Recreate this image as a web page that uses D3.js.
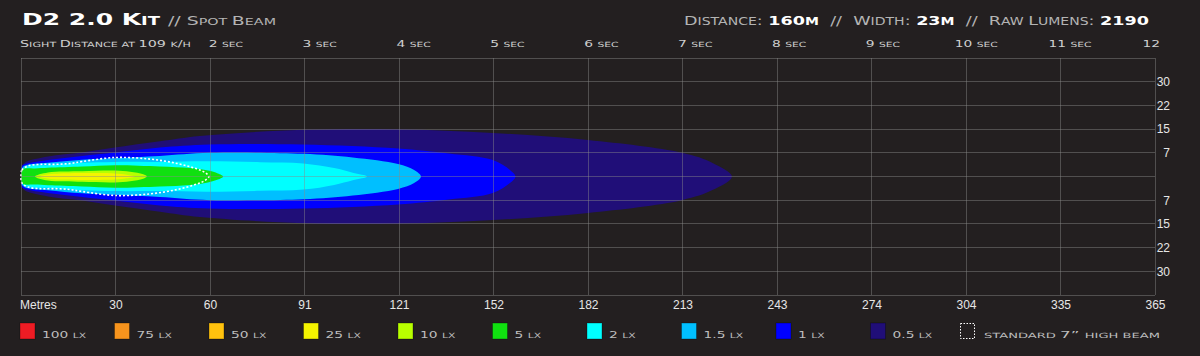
<!DOCTYPE html>
<html>
<head>
<meta charset="utf-8">
<script src="https://cdn.jsdelivr.net/npm/d3@7"></script>
<style>
  body { margin: 0; background: #231f20; }
  svg { display: block; }
  .caps { font-family: "DejaVu Sans", sans-serif; }
  .narrow { font-family: "Liberation Sans Narrow", "Arial Narrow", sans-serif; font-stretch: condensed; }
</style>
</head>
<body>
<script>
// ---- data ----
var luxLabels = ["100 lx", "75 lx", "50 lx", "25 lx", "10 lx", "5 lx", "2 lx", "1.5 lx", "1 lx", "0.5 lx"];
var luxColors = ["#ee1c24", "#f7941d", "#ffc20e", "#f4f400", "#b8ff00", "#10e010", "#00ffff", "#00bfff", "#0000ff", "#200e78"];

var distTicks = [30.48, 60.96, 91.44, 121.92, 152.4, 182.88, 213.36, 243.84, 274.32, 304.8, 335.28, 365.76];
var distLabels = ["30", "60", "91", "121", "152", "182", "213", "243", "274", "304", "335", "365"];
var widthTicks = [-30.48, -22.86, -15.24, -7.62, 7.62, 15.24, 22.86, 30.48];
var widthLabels = ["30", "22", "15", "7", "7", "15", "22", "30"];
var seconds = [2, 3, 4, 5, 6, 7, 8, 9, 10, 11, 12];
var secLabels = ["2 sec", "3 sec", "4 sec", "5 sec", "6 sec", "7 sec", "8 sec", "9 sec", "10 sec", "11 sec", "12"];
var speedKmh = 109;

// isolux contours: [distance m, half width m]
var lux05 = [[0,0],[0.3,3.2],[1.3,4.5],[8.7,6.4],[19.7,7.7],[30.3,9.3],[44.8,11.3],[57.7,13.0],[91,15.0],[121.6,15.2],[152.2,14.0],[182.9,11.7],[213.2,7.6],[223.2,4.3],[229.3,0]];
var lux1 = [[0,0],[0.3,3.4],[1.3,4.0],[8.7,5.3],[19.7,6.6],[30.3,7.7],[44.8,9.3],[60.6,10.3],[91,10.3],[121.6,9.0],[138,7.4],[152.2,5.3],[157.7,2.1],[159.5,0]];
var lux15 = [[0,0],[0.3,2.6],[1.3,3.5],[8.7,4.4],[19.7,5.4],[30.3,5.9],[44.8,6.6],[61,7.6],[91,7.3],[107,6.1],[121.6,4.0],[126.8,2.1],[129,0]];
var lux2 = [[0,0],[0.3,2.2],[1.3,3.0],[4.5,3.6],[8.7,3.6],[19.7,4.4],[30.3,4.7],[44.8,4.7],[60.3,4.9],[77.1,4.6],[91,4.2],[101,2.7],[107,1.2],[111.6,0]];
var lux5 = [[0,0],[0.1,1.6],[0.6,2.4],[4.5,2.6],[8.7,2.8],[19.7,3.2],[30.3,3.6],[44.8,3.2],[54.5,2.7],[60.3,1.9],[63.5,1.0],[65.2,0]];
var lux10 = [[4.5,0],[8.7,1.3],[19.7,1.7],[30.3,1.9],[35.2,1.5],[39.4,0.7],[40.6,0]];
var lux25 = [[6.1,0],[9,0.7],[12.6,0.95],[22.3,1.1],[30.3,1.0],[34,0.6],[36.8,0]];
var highBeam = [[0,0],[0.3,2.1],[2.3,3.4],[6.1,3.9],[11,3.9],[15.8,4.2],[19.7,4.8],[30.3,6.1],[41.6,5.6],[50.3,4.2],[56.8,2.4],[59.3,1.3],[60.6,0]];

var beams = [
  {lux: "0.5 lx", pts: lux05},
  {lux: "1 lx", pts: lux1},
  {lux: "1.5 lx", pts: lux15},
  {lux: "2 lx", pts: lux2},
  {lux: "5 lx", pts: lux5},
  {lux: "10 lx", pts: lux10},
  {lux: "25 lx", pts: lux25}
];

// ---- setup ----
var W = 1200, H = 356;
var svg = d3.select("body").append("svg").attr("width", W).attr("height", H);

var x = d3.scaleLinear().domain([0, 365.76]).range([21, 1155]);
var y = d3.scaleLinear().domain([-38.1, 38.1]).range([295, 58]);
var color = d3.scaleOrdinal().domain(luxLabels).range(luxColors);

function outline(pts) {
  var top = pts.map(function(p){ return [x(p[0]), y(p[1])]; });
  var bot = pts.slice(1, -1).reverse().map(function(p){ return [x(p[0]), y(-p[1])]; });
  return d3.line().curve(d3.curveCatmullRomClosed.alpha(0.5))(top.concat(bot));
}

// fake small caps: lowercase runs become smaller capitals
function smallCaps(parent, str, size, ratio) {
  var runs = [], cur = null;
  str.split("").forEach(function(c){
    var low = c !== c.toUpperCase() || (c === " " && cur && cur.low);
    if (!cur || cur.low !== low) { cur = {low: low, s: ""}; runs.push(cur); }
    cur.s += c;
  });
  runs.forEach(function(r){
    parent.append("tspan").attr("font-size", r.low ? size * ratio : size)
      .attr("xml:space", "preserve").text(r.s.toUpperCase());
  });
  return parent;
}
function stretch(t, k) {
  t.each(function(){
    var w = this.getComputedTextLength();
    d3.select(this).attr("textLength", w * k).attr("lengthAdjust", "spacingAndGlyphs");
  });
}

// beam layers
svg.append("g").selectAll("path")
  .data(beams)
  .join("path")
  .attr("d", function(d){ return outline(d.pts); })
  .attr("fill", function(d){ return color(d.lux); });

svg.append("path")
  .attr("d", outline(highBeam))
  .attr("fill", "none")
  .attr("stroke", "#fff")
  .attr("stroke-width", 1.6)
  .attr("stroke-dasharray", "2,2");

// grid
var grid = svg.append("g").attr("stroke", "#8a8a8a").attr("stroke-opacity", 0.45).attr("shape-rendering", "crispEdges");
grid.selectAll(".v").data([0].concat(distTicks)).join("line")
  .attr("x1", function(d){ return x(d); }).attr("x2", function(d){ return x(d); })
  .attr("y1", y(38.1)).attr("y2", y(-38.1));
grid.selectAll(".h").data([-38.1, 0, 38.1].concat(widthTicks)).join("line")
  .attr("x1", x(0)).attr("x2", x(365.76))
  .attr("y1", function(d){ return y(d); }).attr("y2", function(d){ return y(d); });

// bottom axis
var xAxis = svg.append("g").attr("transform", "translate(0,296)")
  .call(d3.axisBottom(x).tickValues(distTicks).tickSize(0).tickPadding(4)
    .tickFormat(function(d, i){ return distLabels[i]; }));
xAxis.select(".domain").remove();
xAxis.selectAll("text").attr("class", "narrow").attr("font-size", 12).attr("fill", "#e6e6e6");
svg.append("text").attr("class", "narrow").attr("x", 20).attr("y", 309)
  .attr("font-size", 12).attr("fill", "#e6e6e6").text("Metres");

// right axis
var yAxis = svg.append("g").attr("transform", "translate(1170,0)")
  .call(d3.axisLeft(y).tickValues(widthTicks).tickSize(0).tickPadding(0)
    .tickFormat(function(d, i){ return widthLabels[i]; }));
yAxis.select(".domain").remove();
yAxis.selectAll("text").attr("class", "narrow").attr("font-size", 12).attr("fill", "#e6e6e6");

// top seconds
var sight = svg.append("text").attr("class", "caps").attr("x", 20).attr("y", 47).attr("fill", "#cfcfcf")
  .attr("textLength", 171).attr("lengthAdjust", "spacingAndGlyphs");
smallCaps(sight, "Sight Distance at " + speedKmh + " k/h", 9.2, 0.78);

var secs = svg.append("g").selectAll("text").data(seconds).join("text")
  .attr("class", "caps")
  .attr("x", function(d){ return x(d * speedKmh / 3.6) - (d >= 10 ? 5 : 0); })
  .attr("y", 47)
  .attr("fill", "#cfcfcf")
  .each(function(d, i){ smallCaps(d3.select(this), secLabels[i], 9.2, 0.78); });
stretch(secs, 1.5);

// title
var title = svg.append("text").attr("class", "caps").attr("x", 22).attr("y", 24.5)
  .attr("font-weight", "bold").attr("fill", "#fff")
  .attr("textLength", 138).attr("lengthAdjust", "spacingAndGlyphs");
smallCaps(title, "D2 2.0 Kit", 16, 0.72);
var sub = svg.append("text").attr("class", "caps").attr("x", 168).attr("y", 24.5)
  .attr("fill", "#b4b4b4")
  .attr("textLength", 108).attr("lengthAdjust", "spacingAndGlyphs");
smallCaps(sub, "// Spot Beam", 11.5, 0.76);

var info = svg.append("text").attr("class", "caps").attr("x", 684).attr("y", 24.5)
  .attr("textLength", 465).attr("lengthAdjust", "spacingAndGlyphs");
[["Distance: ", "#b4b4b4", "normal"], ["160m", "#fff", "bold"], ["  //  ", "#b4b4b4", "normal"],
 ["Width: ", "#b4b4b4", "normal"], ["23m", "#fff", "bold"], ["  //  ", "#b4b4b4", "normal"],
 ["Raw Lumens: ", "#b4b4b4", "normal"], ["2190", "#fff", "bold"]].forEach(function(s){
  var t = info.append("tspan").attr("fill", s[1]).attr("font-weight", s[2]);
  smallCaps(t, s[0], 12, 0.8);
});

// legend
var lg = svg.append("g").selectAll("g").data(luxLabels).join("g")
  .attr("transform", function(d, i){ return "translate(" + (x(i * 30.48) - 1) + ",323)"; });
lg.append("rect").attr("width", 15).attr("height", 16).attr("fill", function(d){ return color(d); })
  .attr("stroke", "#000").attr("stroke-opacity", 0.3);
var lgText = lg.append("text").attr("class", "caps").attr("x", 22).attr("y", 15)
  .attr("fill", "#bdbdbd")
  .each(function(d){ smallCaps(d3.select(this), d, 9.2, 0.78); });
stretch(lgText, 1.5);

var hb = svg.append("g").attr("transform", "translate(" + (x(10 * 30.48) - 6) + ",323)");
hb.append("rect").attr("x", 0.5).attr("y", 0.5).attr("width", 14).attr("height", 15)
  .attr("fill", "none").attr("stroke", "#fff").attr("stroke-dasharray", "1.5,1.5");
var hbText = hb.append("text").attr("class", "caps").attr("x", 24).attr("y", 15)
  .attr("fill", "#bdbdbd")
  .attr("textLength", 176).attr("lengthAdjust", "spacingAndGlyphs");
smallCaps(hbText, "standard 7\u201D high beam", 9.2, 0.78);
</script>
</body>
</html>
